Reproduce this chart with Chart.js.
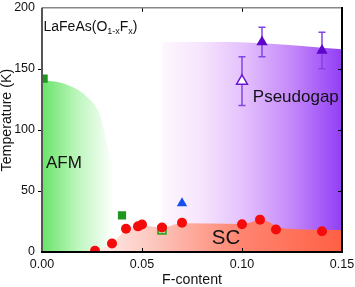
<!DOCTYPE html>
<html>
<head>
<meta charset="utf-8">
<script src="https://cdn.jsdelivr.net/npm/chart.js@4.4.1/dist/chart.umd.min.js"></script>
<style>
  html, body { margin: 0; padding: 0; background: #fff; }
  #wrap { width: 355px; height: 287px; }
</style>
</head>
<body>
<div id="wrap"><canvas id="phase"></canvas></div>
<script>
// measured points (F-content, Temperature K)
const scX = [0.0265, 0.035, 0.042, 0.048, 0.050, 0.060, 0.070, 0.100, 0.109, 0.117, 0.140];
const scT = [1, 7, 19, 21, 22.5, 20, 24, 22.7, 26.5, 18.4, 17];

const afmX = [0.0008, 0.04];
const afmT = [142, 30];
const afmOpenX = [0.06];
const afmOpenT = [18];

const blueX = [0.07];
const blueT = [40];

const pgOpenX = [0.10];
const pgOpenT = [140];
const pgOpenErr = [20];
const pgX = [0.11, 0.14];
const pgT = [172, 165];
const pgErr = [12, 15];

// phase boundaries (shaded regions)
const afmEdgeX = [0, 0.0125, 0.0225, 0.029, 0.033, 0.037, 0.041, 0.044];
const afmEdgeT = [141, 137, 127, 112, 85, 60, 30, 0];
const pgEdgeX = [0.06, 0.095, 0.11, 0.15];
const pgEdgeT = [172, 172, 171, 166];
const scEdgeX = [0.025, 0.035, 0.042, 0.05, 0.06, 0.07, 0.10, 0.11, 0.12, 0.15];
const scEdgeT = [0, 7, 18, 22, 20, 23.5, 23, 26.5, 19.5, 18];

const xTicks = [0, 0.05, 0.10, 0.15];
const yTicks = [0, 50, 100, 150, 200];

const FONT = "'Liberation Sans', Arial, sans-serif";

function pts(xs, ys) {
    return xs.map((x, i) => ({ x: x, y: ys[i] }));
}

function grad(stops) {
    return function (c) {
        const ch = c.chart;
        if (!ch.chartArea) return 'transparent';
        const sx = ch.scales.x;
        const a = stops[0][0], b = stops[stops.length - 1][0];
        const g = ch.ctx.createLinearGradient(sx.getPixelForValue(a), 0, sx.getPixelForValue(b), 0);
        stops.forEach(s => g.addColorStop((s[0] - a) / (b - a), s[1]));
        return g;
    };
}

function area(xs, ys, stops) {
    return {
        type: 'line',
        data: pts(xs, ys),
        fill: 'origin',
        showLine: true,
        borderWidth: 0,
        pointRadius: 0,
        cubicInterpolationMode: 'monotone',
        backgroundColor: grad(stops)
    };
}

// error bars, drawn after the SC area (index 6) so markers sit on top
const errorBars = {
    id: 'errorBars',
    afterDatasetDraw(chart, args) {
        if (args.index !== 6) return;
        const ctx = chart.ctx, sx = chart.scales.x, sy = chart.scales.y;
        const draw = (xs, ys, es) => xs.forEach((x, i) => {
            const px = sx.getPixelForValue(x);
            const top = sy.getPixelForValue(ys[i] + es[i]);
            const bot = sy.getPixelForValue(ys[i] - es[i]);
            ctx.beginPath();
            ctx.moveTo(px, top); ctx.lineTo(px, bot);
            ctx.moveTo(px - 3.5, top); ctx.lineTo(px + 3.5, top);
            ctx.moveTo(px - 3.5, bot); ctx.lineTo(px + 3.5, bot);
            ctx.stroke();
        });
        ctx.save();
        ctx.strokeStyle = '#8244e4';
        ctx.lineWidth = 1.5;
        draw(pgOpenX, pgOpenT, pgOpenErr);
        draw(pgX, pgT, pgErr);
        ctx.restore();
    }
};

const frame = {
    id: 'frame',
    afterDatasetsDraw(chart) {
        const ctx = chart.ctx, a = chart.chartArea;
        const sx = chart.scales.x, sy = chart.scales.y;
        ctx.save();
        // ticks
        ctx.strokeStyle = '#000';
        ctx.lineWidth = 1;
        ctx.beginPath();
        xTicks.slice(1, -1).forEach(v => {
            const p = Math.round(sx.getPixelForValue(v)) + 0.5;
            ctx.moveTo(p, a.bottom); ctx.lineTo(p, a.bottom - 4);
            ctx.moveTo(p, a.top); ctx.lineTo(p, a.top + 4);
        });
        yTicks.slice(1, -1).forEach(v => {
            const p = Math.round(sy.getPixelForValue(v)) + 0.5;
            ctx.moveTo(a.left, p); ctx.lineTo(a.left - 4, p);
            ctx.moveTo(a.right, p); ctx.lineTo(a.right - 4, p);
        });
        ctx.stroke();
        // border
        ctx.lineWidth = 1.5;
        ctx.strokeStyle = '#888';
        ctx.beginPath(); ctx.moveTo(a.left, a.top); ctx.lineTo(a.right, a.top); ctx.stroke();
        ctx.lineWidth = 2;
        ctx.strokeStyle = '#555';
        ctx.beginPath(); ctx.moveTo(a.left, a.top); ctx.lineTo(a.left, a.bottom); ctx.stroke();
        ctx.strokeStyle = '#000';
        ctx.beginPath();
        ctx.moveTo(a.left - 1, a.bottom); ctx.lineTo(a.right + 1, a.bottom);
        ctx.moveTo(a.right, a.bottom); ctx.lineTo(a.right, a.top - 0.75);
        ctx.stroke();

        // labels
        ctx.fillStyle = '#111';
        ctx.textBaseline = 'alphabetic';
        const put = (txt, x, y, size) => {
            ctx.font = size + 'px ' + FONT;
            ctx.fillText(txt, sx.getPixelForValue(x), sy.getPixelForValue(y));
        };
        put('AFM', 0.002, 69.2, 17);
        put('SC', 0.0849, 6.5, 20.5);
        put('Pseudogap', 0.1054, 122.8, 17);

        // formula with subscripts
        let px = sx.getPixelForValue(0.00075);
        const py = sy.getPixelForValue(181.2);
        const parts = [['LaFeAs(O', 14, 0], ['1-x', 9, 3.5], ['F', 14, 0], ['x', 9, 3.5], [')', 14, 0]];
        parts.forEach(p => {
            ctx.font = p[1] + 'px ' + FONT;
            ctx.fillText(p[0], px, py + p[2]);
            px += ctx.measureText(p[0]).width;
        });

        // y axis title (sits a little above the axis centre in the original)
        ctx.font = '14.2px ' + FONT;
        ctx.textAlign = 'center';
        ctx.textBaseline = 'middle';
        ctx.translate(7.5, sy.getPixelForValue(108));
        ctx.rotate(-Math.PI / 2);
        ctx.fillText('Temperature (K)', 0, 0);
        ctx.restore();
    }
};

new Chart(document.getElementById('phase'), {
    type: 'scatter',
    data: {
        datasets: [
            { data: pts(scX, scT), pointStyle: 'circle', pointRadius: 5, backgroundColor: '#f40c0c', borderWidth: 0 },
            { data: pts(afmX, afmT), pointStyle: 'rect', pointRadius: 5.8, backgroundColor: '#1f961f', borderWidth: 0 },
            { data: pts(afmOpenX, afmOpenT), pointStyle: 'rect', pointRadius: 5.4, backgroundColor: '#fff', borderColor: '#36a524', borderWidth: 2 },
            { data: pts(blueX, blueT), pointStyle: 'triangle', pointRadius: 6, backgroundColor: '#1450f0', borderWidth: 0 },
            { data: pts(pgX, pgT), pointStyle: 'triangle', pointRadius: 6.5, backgroundColor: '#5e06cc', borderWidth: 0 },
            { data: pts(pgOpenX, pgOpenT), pointStyle: 'triangle', pointRadius: 6.3, backgroundColor: '#fff', borderColor: '#6a14d8', borderWidth: 1.5 },
            area(scEdgeX, scEdgeT, [[0.025, 'rgb(255,240,237)'], [0.06, 'rgb(252,192,182)'], [0.10, 'rgb(255,132,112)'], [0.15, 'rgb(255,96,68)']]),
            area(afmEdgeX, afmEdgeT, [[0, 'rgb(104,228,104)'], [0.018, 'rgb(190,246,190)'], [0.036, 'rgb(255,255,255)']]),
            area(pgEdgeX, pgEdgeT, [[0.06, 'rgb(254,247,254)'], [0.08, 'rgb(246,228,253)'], [0.10, 'rgb(229,194,252)'], [0.125, 'rgb(196,136,250)'], [0.15, 'rgb(146,62,245)']])
        ]
    },
    options: {
        responsive: true,
        maintainAspectRatio: false,
        animation: false,
        events: [],
        layout: { padding: { top: 5.5, right: 13, left: 0, bottom: 0 } },
        plugins: { legend: { display: false }, tooltip: { enabled: false } },
        scales: {
            x: {
                type: 'linear',
                min: 0,
                max: 0.15,
                afterBuildTicks: s => { s.ticks = xTicks.map(v => ({ value: v })); },
                ticks: {
                    callback: v => v.toFixed(2),
                    font: { family: FONT, size: 12.5 },
                    color: '#111',
                    padding: 5,
                    maxRotation: 0
                },
                grid: { display: false, drawTicks: false },
                border: { display: false },
                title: {
                    display: true,
                    text: 'F-content',
                    font: { family: FONT, size: 14.2, lineHeight: 1 },
                    color: '#111',
                    padding: 0
                },
                afterFit: s => { s.height = 35; s.paddingLeft = 0; s.paddingRight = 0; }
            },
            y: {
                min: 0,
                max: 200,
                afterBuildTicks: s => { s.ticks = yTicks.map(v => ({ value: v })); },
                ticks: {
                    font: { family: FONT, size: 12.5 },
                    color: '#111',
                    padding: 7
                },
                grid: { display: false, drawTicks: false },
                border: { display: false },
                title: { display: false },
                afterFit: s => { s.width = 42; s.paddingTop = 0; s.paddingBottom = 0; }
            }
        }
    },
    plugins: [errorBars, frame]
});
</script>
</body>
</html>
